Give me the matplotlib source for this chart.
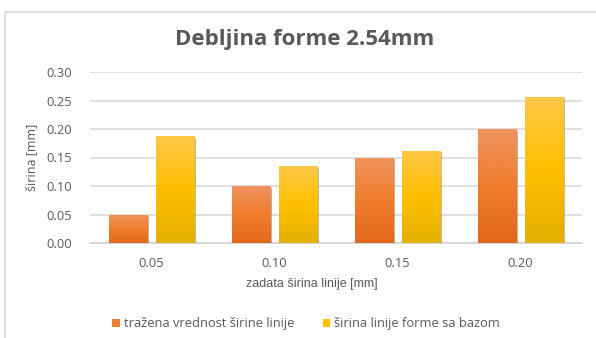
import matplotlib
matplotlib.use("Agg")
import matplotlib.pyplot as plt
import numpy as np
from matplotlib.patches import Rectangle, Patch
from matplotlib.colors import LinearSegmentedColormap
import matplotlib.patheffects as pe

categories = ["0.05", "0.10", "0.15", "0.20"]
trazena = [0.05, 0.10, 0.15, 0.20]
sirina_bazom = [0.188, 0.135, 0.162, 0.257]
series_names = ["tražena vrednost širine linije", "širina linije forme sa bazom"]
yticks = [0.00, 0.05, 0.10, 0.15, 0.20, 0.25, 0.30]

plt.rcParams['font.family'] = ['Open Sans', 'DejaVu Sans']
txt = "#595959"

fig = plt.figure(figsize=(5.96, 3.38), dpi=100)
W, H = 596, 338
# outer chart frame
fig.patches.append(Rectangle((5 / W, -0.05), 1.2, 1 - 12 / H + 0.05, transform=fig.transFigure,
                             fill=False, edgecolor="#D9D9D9", lw=1.2))

ax = fig.add_axes([90 / W, 1 - 243 / H, (582 - 90) / W, (243 - 72) / H])

cm_or = LinearSegmentedColormap.from_list("o", ["#E3681B", "#F07D2E", "#F09360"])
cm_ye = LinearSegmentedColormap.from_list("y", ["#E2B000", "#FFC000", "#FFC84A"])

x = np.arange(len(categories))
w = 0.31
off = 0.19
grad = np.linspace(0, 1, 256).reshape(-1, 1)
colors = ["#ED7D31", "#FFC000"]
for vals, dx, cm, col in [(trazena, -off, cm_or, colors[0]), (sirina_bazom, off, cm_ye, colors[1])]:
    bars = ax.bar(x + dx, vals, width=w, color=col, zorder=3,
                  path_effects=[pe.SimplePatchShadow(offset=(1.2, -1.2), alpha=0.35), pe.Normal()])
    for b in bars:
        im = ax.imshow(grad, extent=[b.get_x(), b.get_x() + b.get_width(), 0, b.get_height()],
                       origin="lower", aspect="auto", cmap=cm, zorder=4)
        im.set_clip_path(b)
ax.set_xlim(-0.5, len(categories) - 0.5)
ax.set_ylim(0, 0.30)

ax.set_yticks(yticks)
ax.set_yticklabels([f"{v:.2f}" for v in yticks])
ax.set_xticks(x)
ax.set_xticklabels(categories)
ax.tick_params(length=0, colors=txt, labelsize=9.3)
ax.tick_params(axis="x", pad=10)
ax.tick_params(axis="y", pad=13)
ax.grid(axis="y", color="#D9D9D9", lw=1.2, zorder=0)
ax.set_axisbelow(True)
for s in ["top", "right", "left"]:
    ax.spines[s].set_visible(False)
ax.spines["bottom"].set_color("#D0D0D0")
ax.spines["bottom"].set_linewidth(1.2)

ax.set_ylabel("širina [mm]", color=txt, fontsize=9, labelpad=6)
ax.set_xlabel("zadata širina linije [mm]", color=txt, fontsize=9, labelpad=5,
              family=["Liberation Sans", "DejaVu Sans"])
ax.xaxis.set_label_coords((312 - 90) / (582 - 90), -0.205)

fig.text(305 / W, 1 - 40 / H, "Debljina forme 2.54mm", ha="center", va="center",
         fontsize=16, fontweight="bold", color=txt)

handles = [Patch(facecolor=c, edgecolor="none") for c in colors]
leg = fig.legend(handles, series_names, loc="center", bbox_to_anchor=(306 / W, 1 - 324 / H),
                 ncol=2, frameon=False, fontsize=9.3, handlelength=0.6, handleheight=0.6,
                 handletextpad=0.3, columnspacing=2.2, labelcolor=txt)

fig.savefig("out.png", dpi=100, facecolor="white")
